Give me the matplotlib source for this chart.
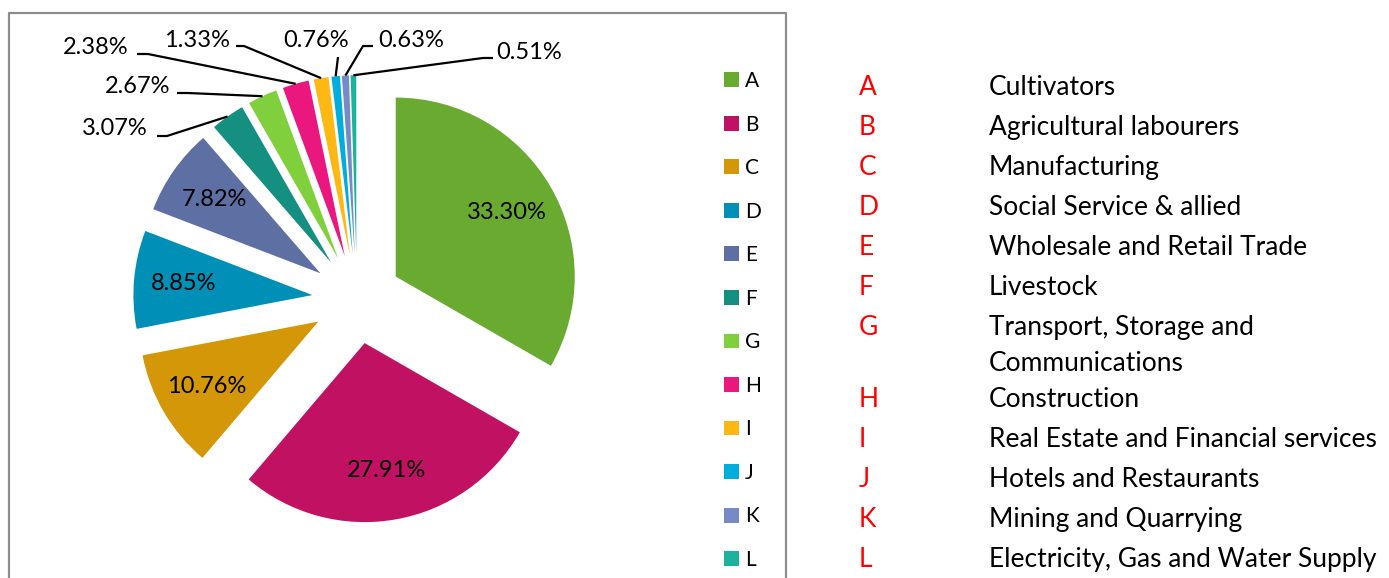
import numpy as np
import matplotlib
matplotlib.use("Agg")
import matplotlib.pyplot as plt

# Datos del gráfico
codes = ['A', 'B', 'C', 'D', 'E', 'F', 'G', 'H', 'I', 'J', 'K', 'L']
shares = [33.30, 27.91, 10.76, 8.85, 7.82, 3.07, 2.67, 2.38, 1.33, 0.76, 0.63, 0.51]
sectors = ['Cultivators', 'Agricultural labourers', 'Manufacturing',
           'Social Service & allied', 'Wholesale and Retail Trade', 'Livestock',
           'Transport, Storage and\nCommunications', 'Construction',
           'Real Estate and Financial services', 'Hotels and Restaurants',
           'Mining and Quarrying', 'Electricity, Gas and Water Supply']
colors = ['#69AB31', '#C01162', '#D39708', '#0090B7', '#5E6FA3', '#148F80',
          '#80CF3C', '#E9177E', '#FDB813', '#00AEDE', '#768AC7', '#1CB39D']

# Geometría (px de la imagen, origen arriba-izquierda)
W, H = 1389, 578
CX, CY, R = 357, 299, 179
PULL = 0.25
FONT = 'Lato'

# Etiquetas pequeñas: (x texto, alineación, línea base, inicio línea, codo)
small_labels = {
    5: (148, 'right', 135, (157, 136), (167, 136)),
    6: (170, 'right', 93, (177, 93), (188, 93)),
    7: (129, 'right', 54, (137, 54), (148, 54)),
    8: (230, 'right', 47, (236, 46), (244, 46)),
    9: (316, 'center', 47, (338, 57), (338, 57)),
    10: (378, 'left', 47, (373, 46), (363, 46)),
    11: (496, 'left', 59, (493, 58), (483, 58)),
}

# Tabla de la derecha: línea base de cada fila y salto de línea interno
row_base = [95, 135, 175, 215, 255, 295, 335, 407, 447, 487, 527, 567]
line_step = 36


def px(x, y):
    return (x - CX) / R, (CY - y) / R


def fig_xy(x, y):
    return x / W, 1 - y / H


fig = plt.figure(figsize=(W / 100, H / 100), dpi=100)
ax = fig.add_axes([0, 0, 1, 1])

wedges, _, pcts = ax.pie(shares, colors=colors, explode=[PULL] * len(shares),
                         startangle=90, counterclock=False, autopct='%.2f%%',
                         pctdistance=0.72, wedgeprops=dict(linewidth=0),
                         textprops=dict(fontsize=17, family=FONT, color='black'))
ax.set_aspect('auto')
ax.set_xlim(-CX / R, (W - CX) / R)
ax.set_ylim((CY - H) / R, CY / R)
ax.axis('off')

# Etiquetas exteriores con líneas guía
for i, (tx, ha, base, start, elbow) in small_labels.items():
    pcts[i].set_visible(False)
    w = wedges[i]
    th = np.deg2rad((w.theta1 + w.theta2) / 2)
    xe = w.center[0] + w.r * np.cos(th)
    ye = w.center[1] + w.r * np.sin(th)
    ax.text(*px(tx, base), f'{shares[i]:.2f}%', ha=ha, va='baseline',
            fontsize=17, family=FONT)
    xs, ys = zip(px(*start), px(*elbow))
    ax.plot(list(xs) + [xe], list(ys) + [ye], color='black', lw=1.6,
            solid_capstyle='butt')

# Marco del gráfico
bx = [px(9, H + 5), px(9, 13), px(786, 13), px(786, H + 5)]
ax.plot([p[0] for p in bx], [p[1] for p in bx], color='#8c8c8c', lw=1.6)

# Leyenda
ax.legend(wedges, codes, loc='upper left', bbox_to_anchor=fig_xy(724, 71),
          bbox_transform=fig.transFigure, frameon=False, borderpad=0,
          borderaxespad=0, prop=dict(family=FONT, size=15),
          handlelength=0.72, handleheight=0.72, handletextpad=0.3,
          labelspacing=1.13)

# Tabla de códigos
for code, name, base in zip(codes, sectors, row_base):
    fig.text(*fig_xy(859, base), code, color='red', fontsize=19, family=FONT,
             va='baseline')
    for k, line in enumerate(name.split('\n')):
        fig.text(*fig_xy(989, base + k * line_step), line, color='black',
                 fontsize=19, family=FONT, va='baseline')

fig.savefig('out.png', dpi=100)
